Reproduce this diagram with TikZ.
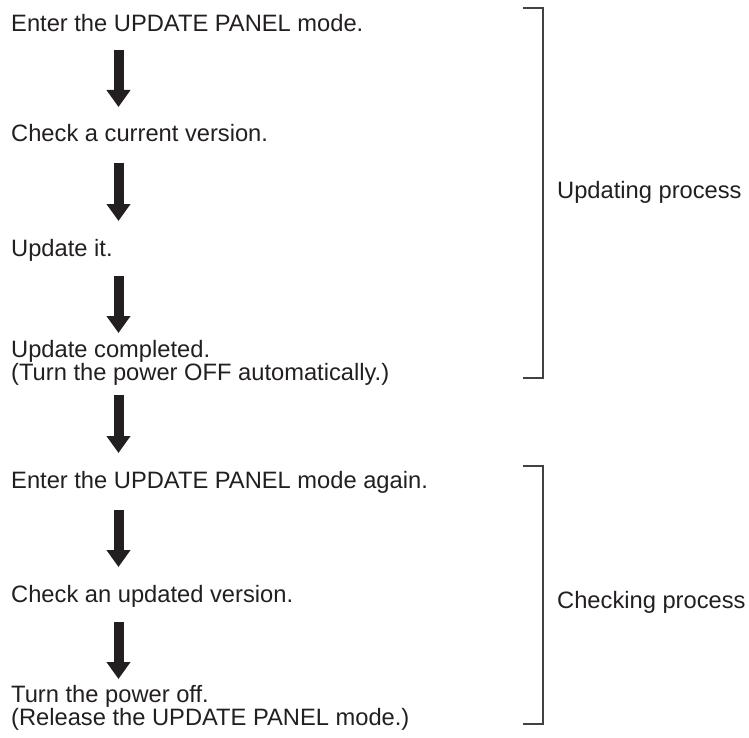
\documentclass[tikz,border=0pt]{standalone}
\usepackage{fontspec}
\setmainfont{Liberation Sans}
\usetikzlibrary{arrows.meta}
\definecolor{ink}{HTML}{231F20}
\tikzset{
  txt/.style={anchor=base west, inner sep=0pt, align=left, text=ink,
    font=\fontsize{23.7}{23.5}\selectfont},
  flow/.style={draw=ink, line width=10pt,
    -{Triangle[width=23pt,length=17pt]}},
  brack/.style={draw=ink!85, line width=1.2pt},
}
\begin{document}
\begin{tikzpicture}[x=1pt,y=-1pt]
\useasboundingbox (0,0) rectangle (749,738);
% texts
\node[txt] (t1) at (11,32) {Enter the UPDATE PANEL mode.};
\node[txt] (t2) at (11,142) {Check a current version.};
\node[txt] (t3) at (11,256) {Update it.};
\node[txt] (t4) at (11,357) {Update completed.};
\node[txt] (t4b) at (11,380.5) {(Turn the power OFF automatically.)};
\node[txt] (t5) at (11,488) {Enter the UPDATE PANEL mode again.};
\node[txt] (t6) at (11,602) {Check an updated version.};
\node[txt] (t7) at (11,702) {Turn the power off.};
\node[txt] (t7b) at (11,725.5) {(Release the UPDATE PANEL mode.)};
% arrow end points
\coordinate (a1s) at (118.5,50);  \coordinate (a1e) at (118.5,107);
\coordinate (a2s) at (118.5,163); \coordinate (a2e) at (118.5,221);
\coordinate (a3s) at (118.5,276); \coordinate (a3e) at (118.5,333);
\coordinate (a4s) at (118.5,395); \coordinate (a4e) at (118.5,453);
\coordinate (a5s) at (118.5,510); \coordinate (a5e) at (118.5,567);
\coordinate (a6s) at (118.5,622); \coordinate (a6e) at (118.5,679);
\draw[flow] (a1s) -- (a1e);
\draw[flow] (a2s) -- (a2e);
\draw[flow] (a3s) -- (a3e);
\draw[flow] (a4s) -- (a4e);
\draw[flow] (a5s) -- (a5e);
\draw[flow] (a6s) -- (a6e);
% brackets
\coordinate (b1t) at (523,8);   \coordinate (b1b) at (523,378);
\coordinate (b2t) at (523,466); \coordinate (b2b) at (523,724);
\draw[brack] (b1t) -- ++(20,0) -- ++(0,370) -- (b1b);
\draw[brack] (b2t) -- ++(20,0) -- ++(0,258) -- (b2b);
\node[txt] (l1) at (557,199) {Updating process};
\node[txt] (l2) at (557,608) {Checking process};
\end{tikzpicture}
\end{document}
